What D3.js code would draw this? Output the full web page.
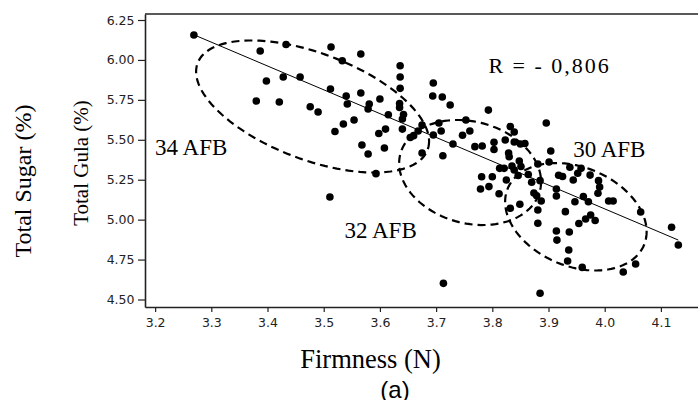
<!DOCTYPE html>
<html><head><meta charset="utf-8">
<script src="https://cdn.jsdelivr.net/npm/d3@7"></script>
<style>body{margin:0;background:#fff}svg{display:block}</style>
</head><body><svg id="chart" width="698" height="400"></svg>
<script>
// ---- data ----
const firmness = [3.269,3.387,3.433,3.513,3.533,3.398,3.428,3.458,3.512,3.540,3.542,3.380,3.421,3.476,3.490,3.535,3.520,3.511,3.566,3.636,3.636,3.636,3.695,3.694,3.711,3.725,3.566,3.600,3.581,3.579,3.635,3.635,3.615,3.642,3.554,3.640,3.640,3.610,3.598,3.793,3.896,3.675,3.705,3.753,3.668,3.660,3.654,3.709,3.695,3.760,3.747,3.832,3.839,3.823,3.839,3.850,3.858,3.730,3.769,3.782,3.803,3.803,3.568,3.579,3.608,3.675,3.712,3.829,3.830,3.904,3.881,3.901,3.848,3.851,3.835,3.839,3.813,3.821,3.864,3.870,3.885,3.781,3.800,3.825,3.846,3.779,3.794,3.812,3.874,3.879,3.914,3.914,3.918,3.925,3.938,3.952,3.958,3.974,3.944,3.989,3.991,3.988,3.947,3.962,3.971,4.007,4.015,3.930,3.849,3.832,3.887,3.881,3.881,4.064,3.954,3.966,3.975,3.983,3.914,3.915,3.937,4.119,4.131,3.936,3.934,3.960,4.055,4.033,3.713,3.885,3.593];
const totalSugar = [6.156,6.056,6.097,6.081,5.995,5.868,5.893,5.893,5.818,5.774,5.724,5.743,5.737,5.707,5.674,5.599,5.552,5.142,6.037,5.964,5.893,5.822,5.856,5.774,5.768,5.718,5.793,5.755,5.724,5.693,5.727,5.702,5.657,5.658,5.624,5.630,5.567,5.567,5.539,5.686,5.605,5.593,5.605,5.624,5.555,5.526,5.514,5.555,5.530,5.555,5.528,5.583,5.549,5.499,5.486,5.474,5.477,5.474,5.457,5.461,5.484,5.439,5.467,5.411,5.449,5.417,5.400,5.417,5.394,5.430,5.348,5.361,5.367,5.333,5.336,5.311,5.321,5.321,5.283,5.234,5.244,5.269,5.269,5.248,5.276,5.192,5.207,5.162,5.167,5.150,5.192,5.148,5.278,5.270,5.328,5.290,5.321,5.279,5.248,5.244,5.204,5.165,5.112,5.145,5.112,5.117,5.117,5.050,5.096,5.071,5.117,5.060,4.977,5.048,4.976,5.004,5.029,4.995,4.929,4.872,4.923,4.952,4.841,4.810,4.741,4.701,4.722,4.672,4.601,4.539,5.288];

const xTicks = [3.2,3.3,3.4,3.5,3.6,3.7,3.8,3.9,4.0,4.1];
const yTicks = [4.50,4.75,5.00,5.25,5.50,5.75,6.00,6.25];

// regression line end points
const fitX = [3.270, 4.131];
const fitY = [6.156, 4.872];
const rLabel = "R = - 0,806";
const rAt = [3.793, 5.920];

// group ellipses (centre + conjugate half-axes, data units)
const groupLabels = ["34 AFB","32 AFB","30 AFB"];
const groupLabelX = [3.200, 3.537, 3.944];
const groupLabelY = [5.405, 4.887, 5.390];
const ellipseCx = [3.4802, 3.7605, 3.9487];
const ellipseCy = [5.7084, 5.2951, 5.0180];
const ellipseUx = [0.2073, 0.1263, 0.1259];
const ellipseUy = [-0.2179, -0.0582, -0.0936];
const ellipseVy = [-0.3513, -0.3237, -0.3231];

// ---- drawing ----
const svg = d3.select("#chart");
const x = d3.scaleLinear().domain([3.182, 4.166]).range([145, 698]);
const y = d3.scaleLinear().domain([4.453, 6.2876]).range([307, 14]);

// top frame line
svg.append("line").attr("x1", 145).attr("x2", 698).attr("y1", 14).attr("y2", 14)
  .attr("stroke", "#222").attr("stroke-width", 1.6);

const xAxis = svg.append("g").attr("transform", "translate(0,307)")
  .call(d3.axisBottom(x).tickValues(xTicks).tickFormat(d3.format(".1f")).tickSize(5).tickSizeOuter(0).tickPadding(6));
const yAxis = svg.append("g").attr("transform", "translate(145,0)")
  .call(d3.axisLeft(y).tickValues(yTicks).tickFormat(d3.format(".2f")).tickSize(7).tickSizeOuter(0).tickPadding(3.5));
[xAxis, yAxis].forEach(g => {
  g.select(".domain").attr("stroke", "#222").attr("stroke-width", 1.6);
  g.selectAll(".tick line").attr("stroke", "#222").attr("stroke-width", 1.2);
  g.selectAll(".tick text").attr("fill", "#222").style("font-family", "'DejaVu Sans', Verdana, sans-serif").style("font-size", "12.5px");
});

// ellipses
const N = 120;
groupLabels.forEach((lab, i) => {
  const pts = d3.range(N).map(k => {
    const t = 2 * Math.PI * k / N;
    return [ellipseCx[i] + ellipseUx[i] * Math.cos(t),
            ellipseCy[i] + ellipseUy[i] * Math.cos(t) + ellipseVy[i] * Math.sin(t)];
  });
  svg.append("path")
    .attr("d", d3.line().x(d => x(d[0])).y(d => y(d[1])).curve(d3.curveLinearClosed)(pts))
    .attr("fill", "none").attr("stroke", "#000").attr("stroke-width", 2.2)
    .attr("stroke-dasharray", "8,5");
});

// regression line
svg.append("line")
  .attr("x1", x(fitX[0])).attr("y1", y(fitY[0]))
  .attr("x2", x(fitX[1])).attr("y2", y(fitY[1]))
  .attr("stroke", "#000").attr("stroke-width", 1);

// points
svg.append("g").selectAll("circle").data(firmness).join("circle")
  .attr("cx", d => x(d)).attr("cy", (d, i) => y(totalSugar[i]))
  .attr("r", 3.8).attr("fill", "#000");

const serif = "'Liberation Serif', 'Times New Roman', serif";
// group labels
groupLabels.forEach((lab, i) => {
  svg.append("text").attr("x", x(groupLabelX[i])).attr("y", y(groupLabelY[i]))
    .style("font-family", serif).style("font-size", "23px").attr("fill", "#000").text(lab);
});
svg.append("text").attr("x", x(rAt[0])).attr("y", y(rAt[1]))
  .style("font-family", serif).style("font-size", "22px").style("letter-spacing", "2px")
  .attr("fill", "#000").text(rLabel);

// axis titles
svg.append("text").attr("transform", "translate(31,181) rotate(-90)").attr("text-anchor", "middle")
  .style("font-family", serif).style("font-size", "24px").attr("fill", "#000").text("Total Sugar (%)");
svg.append("text").attr("transform", "translate(88,163) rotate(-90)").attr("text-anchor", "middle")
  .style("font-family", serif).style("font-size", "21px").attr("fill", "#000").text("Total Gula (%)");
svg.append("text").attr("x", 370.5).attr("y", 368).attr("text-anchor", "middle")
  .style("font-family", serif).style("font-size", "26.5px").attr("fill", "#000").text("Firmness (N)");
svg.append("text").attr("x", 395).attr("y", 397.5).attr("text-anchor", "middle")
  .style("font-family", "'Liberation Sans', Arial, sans-serif").style("font-size", "24px").attr("fill", "#000").text("(a)");
</script>
</body></html>
